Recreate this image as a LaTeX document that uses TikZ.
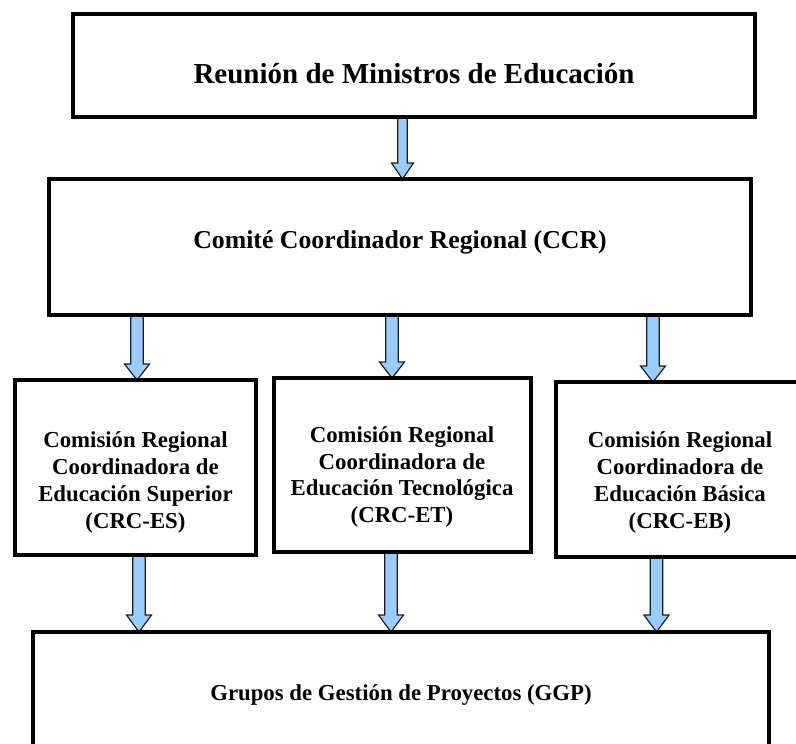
\documentclass[tikz,border=0pt]{standalone}
\usepackage{fontspec}
\setmainfont{Liberation Serif}
\usetikzlibrary{calc}
\definecolor{arrfill}{RGB}{153,204,255}
\definecolor{arrline}{RGB}{30,30,30}
\pgfdeclarelayer{bg}
\pgfsetlayers{bg,main}
% #1 x centre, #2 from anchor, #3 to anchor, #4 shaft half width, #5 head half width, #6 head length
\newcommand{\blockarrow}[6]{%
  \path[barrow] let \p1=(#2), \p2=(#3) in
    (#1pt-#4pt,\y1) -- (#1pt+#4pt,\y1) -- (#1pt+#4pt,\y2+#6pt) -- (#1pt+#5pt,\y2+#6pt)
    -- (#1pt,\y2) -- (#1pt-#5pt,\y2+#6pt) -- (#1pt-#4pt,\y2+#6pt) -- cycle;}
\begin{document}
\begin{tikzpicture}[x=1pt,y=-1pt,
  box/.style={draw=black, line width=4pt, line join=miter, inner sep=0pt, outer sep=0pt, anchor=north west},
  barrow/.style={fill=arrfill, draw=arrline, line width=1.2pt, line join=miter},
  bigtxt/.style={font=\fontsize{29}{34}\selectfont\bfseries, anchor=base, inner sep=0pt},
  midtxt/.style={font=\fontsize{25.8}{30}\selectfont\bfseries, anchor=base, inner sep=0pt},
  smalltxt/.style={font=\fontsize{22.8}{26.7}\selectfont\bfseries, anchor=base, inner sep=0pt, align=center}]
\clip (0,0) rectangle (796,744);
% boxes
\node[box, minimum width=682pt, minimum height=102.5pt] (reun) at (73,14) {};
\node[box, minimum width=702pt, minimum height=136pt] (ccr) at (49,179) {};
\node[box, minimum width=241pt, minimum height=175pt] (es) at (15,380) {};
\node[box, minimum width=257pt, minimum height=174pt] (et) at (274,378) {};
\node[box, minimum width=249pt, minimum height=175pt] (eb) at (556,382) {};
\node[box, minimum width=736pt, minimum height=138pt] (ggp) at (33,632) {};
% texts (anchored at the baseline of the last line)
\node[bigtxt] (treun) at (414,83) {Reunión de Ministros de Educación};
\node[midtxt] (tccr) at (400,248) {Comité Coordinador Regional (CCR)};
\node[smalltxt] (tes) at (135.5,528) {Comisión Regional\\Coordinadora de\\Educación Superior\\(CRC-ES)};
\node[smalltxt] (tet) at (402,522.5) {Comisión Regional\\Coordinadora de\\Educación Tecnológica\\(CRC-ET)};
\node[smalltxt] (teb) at (680,528) {Comisión Regional\\Coordinadora de\\Educación Básica\\(CRC-EB)};
\node[smalltxt] (tggp) at (401,700) {Grupos de Gestión de Proyectos (GGP)};
% arrows
\begin{pgfonlayer}{bg}
\blockarrow{402.5}{reun.south}{ccr.north}{4.8}{11}{16}
\blockarrow{137}{ccr.south}{es.north}{6.3}{12.5}{16}
\blockarrow{392}{ccr.south}{et.north}{6.3}{12.5}{16}
\blockarrow{653}{ccr.south}{eb.north}{6.3}{12.5}{16}
\blockarrow{139}{es.south}{ggp.north}{6.3}{12.5}{17}
\blockarrow{391}{et.south}{ggp.north}{6.3}{12.5}{17}
\blockarrow{656.5}{eb.south}{ggp.north}{6.3}{12.5}{17}
\end{pgfonlayer}
\end{tikzpicture}
\end{document}
